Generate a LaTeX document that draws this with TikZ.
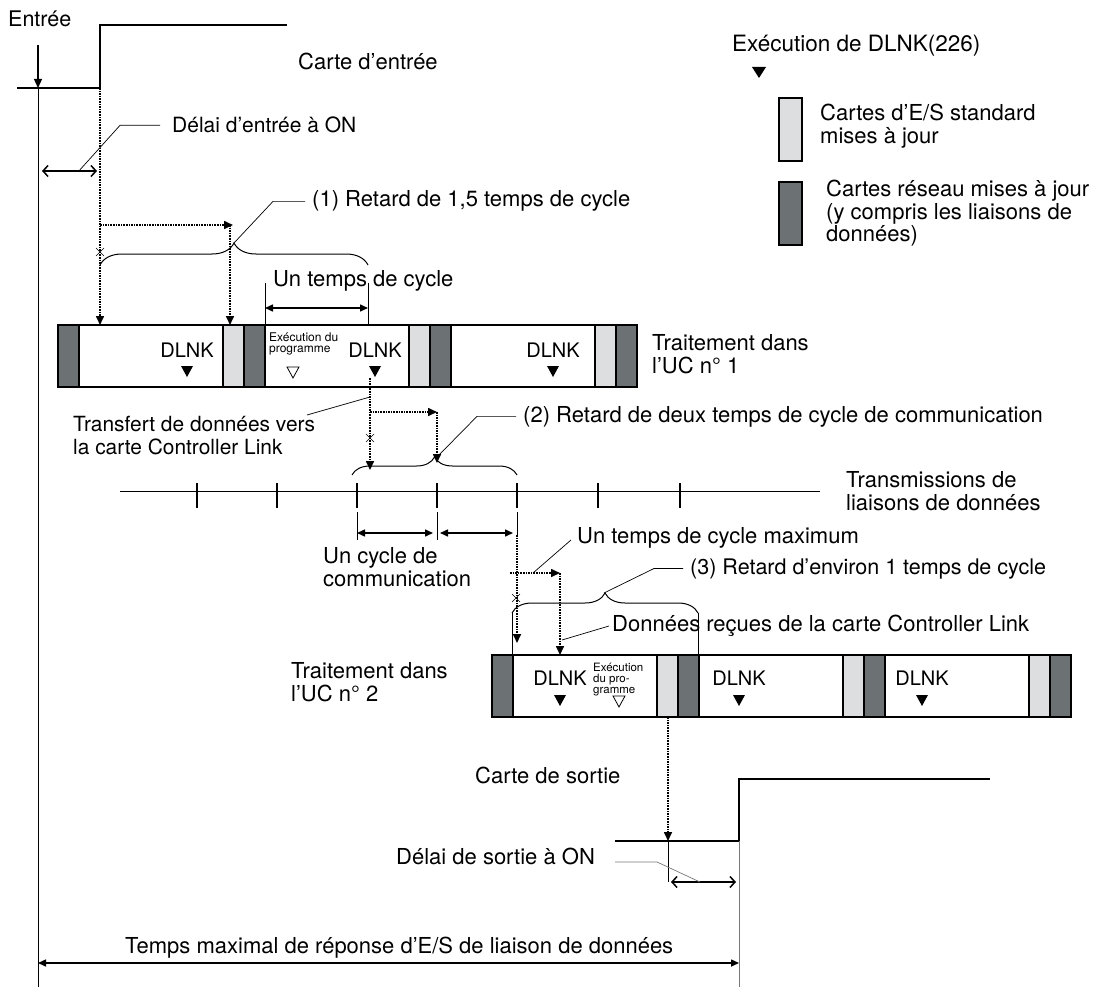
\documentclass[tikz,border=0pt]{standalone}
\usepackage{fontspec}
\setmainfont{TeX Gyre Heros}
\usetikzlibrary{arrows.meta, positioning, calc, decorations.pathreplacing}
\definecolor{netgray}{RGB}{108,113,115}
\definecolor{iogray}{RGB}{221,222,224}
\definecolor{leadgray}{RGB}{120,120,120}

\begin{document}
\begin{tikzpicture}[x=1pt, y=-1pt,
  every node/.style={font=\fontsize{22}{22.5}\selectfont, inner sep=0pt},
  lbl/.style={align=left, anchor=base west},
  fs/.style={font=\fontsize{#1}{22.5}\selectfont},
  small/.style={font=\fontsize{#1}{10.8}\selectfont, align=left, anchor=base west},
  small/.default=12,
  sig/.style={line width=2pt},
  hair/.style={line width=0.8pt},
  box/.style={line width=1.3pt},
  dots/.style={densely dotted, line width=1.6pt},
  tip/.style={-{Triangle[length=9pt, width=8pt]}},
  dim/.style={{Triangle[length=8pt, width=7pt]}-{Triangle[length=8pt, width=7pt]}, line width=1.5pt},
  gap/.style={{Straight Barb[length=5pt, width=11pt]}-{Straight Barb[length=5pt, width=11pt]}, line width=1.5pt},
  lead/.style={line width=0.7pt},
  brc/.style={decorate, decoration={brace, amplitude=#1}, line width=1pt},
  xmark/.style={line width=0.6pt}]

  \useasboundingbox (0,0) rectangle (1095,987);

  % signal d'entree
  \draw[sig] (17,88) -- (100,88) -- (100,25) -- (287,25);
  \node[lbl, fs=21.5] (entree) at (8,27) {Entrée};
  \node[lbl] (carteE) at (298,70) {Carte d'entrée};
  \coordinate (t0) at (38,88);
  \coordinate (tEnd) at (38,987);
  \draw[tip, line width=1.2pt] (38,45) -- (t0);
  \draw[hair] (t0) -- (tEnd);

  % delai d'entree
  \coordinate (on1) at (100,88);
  \coordinate (on1b) at (100,325);
  \draw[gap] (42,171) -- (97,171);
  \node[lbl, fs=21] (delaiE) at (172,133) {Délai d'entrée à ON};
  \draw[lead] ([xshift=-12pt]delaiE.west) -- ++(-40,0) -- (78,172);

  % retard (1)
  \draw[dots, tip] (on1) -- (on1b);
  \draw[dots, tip] (100,225) -- (233,225);
  \draw[dots, tip] (230,225) -- (230,325);
  \draw[xmark] (96,248) -- (104,256) (96,256) -- (104,248);
  \draw[brc=22pt] (100,265) -- (368,265);
  \node[lbl] (ret1) at (312,207) {(1) Retard de 1,5 temps de cycle};
  \draw[lead] ([xshift=-7pt]ret1.west) -- ++(-32,0) -- (234,243);

  % un temps de cycle
  \node[lbl] (cyc1) at (273,286) {Un temps de cycle};
  \draw[hair] (265,283) -- (265,325);
  \draw[hair] (368,283) -- (368,335);
  \draw[dim] (265,308) -- (368,308);

  % UC 1
  \foreach \s in {58,244,430} {
    \draw[box, fill=netgray] (\s,325) rectangle ++(21,62);
    \draw[box, fill=white] (\s+21,325) rectangle ++(144,62);
    \draw[box, fill=iogray] (\s+165,325) rectangle ++(21,62);
  }
  \draw[box, fill=netgray] (616,325) rectangle ++(21,62);
  \foreach \x/\n in {187/a, 375/b, 553/c} {
    \node[anchor=base, fs=20] (dl1\n) at (\x,357) {DLNK};
    \fill (\x-6,366) -- (\x+6,366) -- (\x,377) -- cycle;
  }
  \node[small] (exec1) at (269,352) {Exécution du\\programme};
  \draw[hair] (287,367) -- (299,367) -- (293,378) -- cycle;
  \node[lbl] (cpu1) at (652,373) {Traitement dans\\l'UC n° 1};

  % legende
  \node[lbl, fs=22.5] (legDl) at (732,52) {Exécution de DLNK(226)};
  \fill (752,67) -- (766,67) -- (759,78) -- cycle;
  \draw[box, fill=iogray] (779,98) rectangle (802,161);
  \node[lbl] (legIO) at (820,143.5) {Cartes d'E/S standard\\mises à jour};
  \draw[box, fill=netgray] (779,182) rectangle (802,245);
  \node[lbl] (legNet) at (826,242) {Cartes réseau mises à jour\\(y compris les liaisons de\\données)};

  % transfert vers la carte
  \coordinate (tr1) at (370,378);
  \draw[dots, tip] (tr1) -- (370,470);
  \draw[dots, tip] (370,412) -- (437,412);
  \draw[dots, tip] (437,412) -- (437,463);
  \draw[xmark] (366,434) -- (374,442) (366,442) -- (374,434);
  \node[lbl, fs=20.9] (transf) at (73,454) {Transfert de données vers\\la carte Controller Link};
  \draw[lead] (307,415) -- (370,397);
  \draw[brc=18pt] (352,475) -- (517,475);
  \node[lbl] (ret2) at (523,422) {(2) Retard de deux temps de cycle de communication};
  \draw[lead] ([xshift=-7pt]ret2.west) -- ++(-39,0) -- (437,457);

  % transmissions
  \draw[hair] (120,491) -- (820,491);
  \foreach \x in {197,277,357,437,517,598,680}
    \draw[line width=1.3pt] (\x,483) -- (\x,508);
  \node[lbl] (trans) at (846,510) {Transmissions de\\liaisons de données};
  \draw[hair] (357,512) -- (357,540);
  \draw[hair] (437,512) -- (437,540);
  \draw[hair] (517,512) -- (517,535);
  \draw[dim] (357,533) -- (433,533);
  \draw[dim] (440,533) -- (513,533);
  \node[lbl] (cycCom) at (323,586) {Un cycle de\\communication};

  % reception UC 2
  \coordinate (rx) at (517,535);
  \draw[dots, tip] (rx) -- (517,643);
  \draw[dots, tip] (510,573) -- (560,573);
  \draw[dots, tip] (560,573) -- (560,655);
  \draw[xmark] (512,594) -- (520,602) (512,602) -- (520,594);
  \node[lbl] (cycMax) at (577,543) {Un temps de cycle maximum};
  \draw[lead] (571,540) -- (533,573);
  \draw[brc=20pt] (512,613) -- (698,613);
  \draw[hair] (512,613) -- (512,655);
  \draw[hair] (698,613) -- (698,655);
  \node[lbl, fs=21.5] (ret3) at (690,574) {(3) Retard d'environ 1 temps de cycle};
  \draw[lead] ([xshift=-7pt]ret3.west) -- ++(-29,0) -- (604,593);
  \node[lbl] (recu) at (612,631) {Données reçues de la carte Controller Link};
  \draw[lead] (609,626) -- (562,640);

  % UC 2
  \foreach \s in {492,678,864} {
    \draw[box, fill=netgray] (\s,655) rectangle ++(21,62);
    \draw[box, fill=white] (\s+21,655) rectangle ++(144,62);
    \draw[box, fill=iogray] (\s+165,655) rectangle ++(21,62);
  }
  \draw[box, fill=netgray] (1050,655) rectangle ++(21,62);
  \foreach \x/\n in {560/a, 739/b, 922/c} {
    \node[anchor=base, fs=20] (dl2\n) at (\x,685) {DLNK};
    \fill (\x-6,695) -- (\x+6,695) -- (\x,706) -- cycle;
  }
  \node[small=11.5] (exec2) at (593,693) {Exécution\\du pro-\\gramme};
  \draw[hair] (613,696) -- (625,696) -- (619,707) -- cycle;
  \node[lbl] (cpu2) at (291,701) {Traitement dans\\l'UC n° 2};

  % sortie
  \coordinate (out1) at (668,717);
  \coordinate (out2) at (668,841);
  \coordinate (on2) at (739,841);
  \draw[dots, tip] (out1) -- (out2);
  \draw[sig] (615,841) -- (on2) -- (739,779) -- (990,779);
  \node[lbl] (carteS) at (475,783) {Carte de sortie};
  \draw[hair] (out2) -- (668,882);
  \draw[hair, leadgray] (on2) -- (739,987);
  \draw[gap] (671,882) -- (736,882);
  \node[lbl] (delaiS) at (396,864) {Délai de sortie à ON};
  \draw[lead, leadgray] (615,862) -- (657,862) -- (700,882);

  % temps de reponse total
  \draw[dim] (38,963) -- (739,963);
  \node[lbl] (total) at (125,953) {Temps maximal de réponse d'E/S de liaison de données};
\end{tikzpicture}
\end{document}
